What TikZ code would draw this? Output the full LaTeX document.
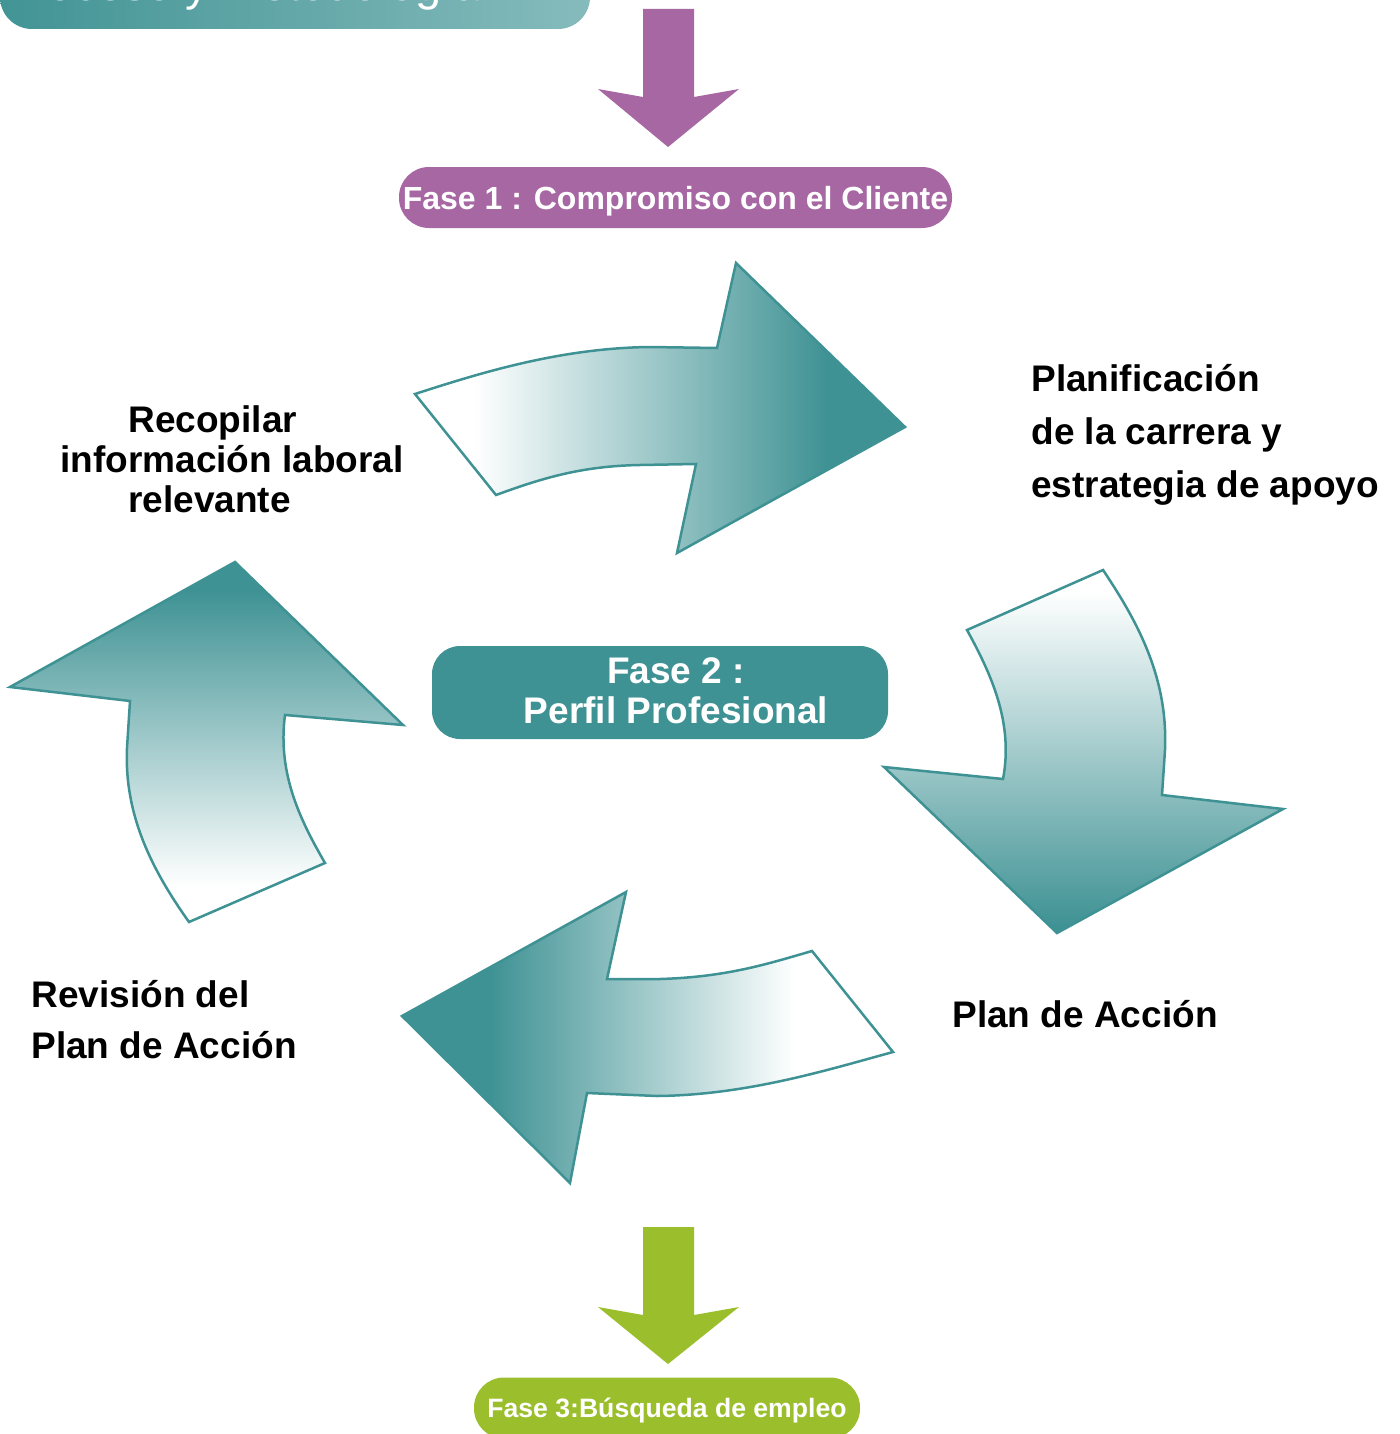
\documentclass[tikz,border=0pt]{standalone}
\usepackage{fontspec}
\setmainfont{Liberation Sans}
\definecolor{tealc}{HTML}{3F9294}
\definecolor{purplec}{HTML}{A767A3}
\definecolor{greenc}{HTML}{9BBF2C}
\definecolor{bannerL}{HTML}{429495}
\definecolor{bannerR}{HTML}{86BBBC}
\pgfdeclarehorizontalshading{shTop}{100bp}{color(0bp)=(white); color(31bp)=(white); color(67bp)=(tealc); color(100bp)=(tealc)}
\pgfdeclarehorizontalshading{shBot}{100bp}{color(0bp)=(tealc); color(34bp)=(tealc); color(65bp)=(white); color(100bp)=(white)}
\pgfdeclareverticalshading{shRight}{100bp}{color(0bp)=(tealc); color(26bp)=(tealc); color(72bp)=(white); color(100bp)=(white)}
\pgfdeclareverticalshading{shLeft}{100bp}{color(0bp)=(white); color(30bp)=(white); color(71bp)=(tealc); color(100bp)=(tealc)}
\tikzset{
  curvy/.style={draw=tealc, line width=1.25pt, line join=miter, shade},
  lab/.style={font=\bfseries\fontsize{18.5}{20}\selectfont, inner sep=0pt, text=black},
  fasebox/.style={rounded corners=15pt, inner sep=0pt, text=white, font=\bfseries}
}
\begin{document}
\begin{tikzpicture}[x=0.5pt,y=-0.5pt]
\useasboundingbox (0,0) rectangle (1400,1434);
\clip (0,0) rectangle (1400,1434);
% banner (cut off at top)
\path[left color=bannerL, right color=bannerR, rounded corners=16pt]
  (0,-60) -- (590,-60) -- (590,29) -- (0,29) [sharp corners] -- cycle;
\node[anchor=base west, inner sep=0pt, text=white, font=\fontsize{23.5}{26}\selectfont] (banner) at (0,0.5) {Proceso y Metodología};
% purple arrow
\fill[purplec] (643,9) -- (694,9) -- (694,97) -- (739,89) -- (668,147) -- (598,89) -- (643,97) -- cycle;
% Fase 1
\node[fasebox, fill=purplec, minimum width=276.5pt, minimum height=30.5pt, text depth=0pt, font=\bfseries\fontsize{16}{18}\selectfont] (f1) at (675.5,197.5) {Fase 1 : Compromiso con el Cliente};
% curved arrows
\path[curvy, shading=shTop] (415,394) .. controls (480,373) and (560,348) .. (650,347) -- (717,348) -- (736,263) -- (905,427) -- (677,553) -- (696,464) -- (640,465) .. controls (580,466) and (540,479) .. (496,495) -- cycle;
\path[curvy, shading=shRight] (1103,570) .. controls (1140,625) and (1168,680) .. (1165,750) -- (1162,795) -- (1283,809) -- (1057,933) -- (884,767) -- (1003,779) .. controls (1014,722) and (990,672) .. (967,630) -- cycle;
\path[curvy, shading=shBot] (402,1016) -- (626,892) -- (607,979) -- (660,979) .. controls (727,977) and (767,964) .. (812,951) -- (893,1052) .. controls (827,1070) and (747,1095) .. (657,1096) -- (587,1093) -- (570,1183) -- cycle;
\path[curvy, shading=shLeft] (235,562) -- (403,725) -- (285,715) .. controls (277,775) and (302,823) .. (325,863) -- (189,922) .. controls (152,870) and (124,815) .. (127,748) -- (130,701) -- (10,687) -- cycle;
% Fase 2
\node[fasebox, fill=tealc, minimum width=228pt, minimum height=46.5pt, rounded corners=14pt] (f2) at (660,692.5) {};
\node[lab, text=white, align=center] (f2t) at (676,691) {Fase 2 :\\Perfil Profesional};
% labels
\node[lab, align=left, anchor=base west] (recop) at (60,512) {\hspace*{34pt}Recopilar\\información laboral\\\hspace*{34pt}relevante};
\node[lab, align=left, anchor=base west, font=\bfseries\fontsize{18.5}{26.5}\selectfont] (plan) at (1031,497) {Planificación\\de la carrera y\\estrategia de apoyo};
\node[lab, anchor=base west] (accion) at (952,1027) {Plan de Acción};
\node[lab, align=left, anchor=base west, font=\bfseries\fontsize{18.5}{25.5}\selectfont] (revision) at (31,1058) {Revisión del\\Plan de Acción};
% green arrow
\fill[greenc] (643,1227) -- (694,1227) -- (694,1315) -- (739,1307) -- (668,1364) -- (598,1307) -- (643,1315) -- cycle;
% Fase 3
\node[fasebox, fill=greenc, minimum width=193pt, minimum height=30.5pt, text depth=0pt, font=\bfseries\fontsize{13.3}{15}\selectfont] (f3) at (667,1408) {Fase 3:Búsqueda de empleo};
\end{tikzpicture}
\end{document}
